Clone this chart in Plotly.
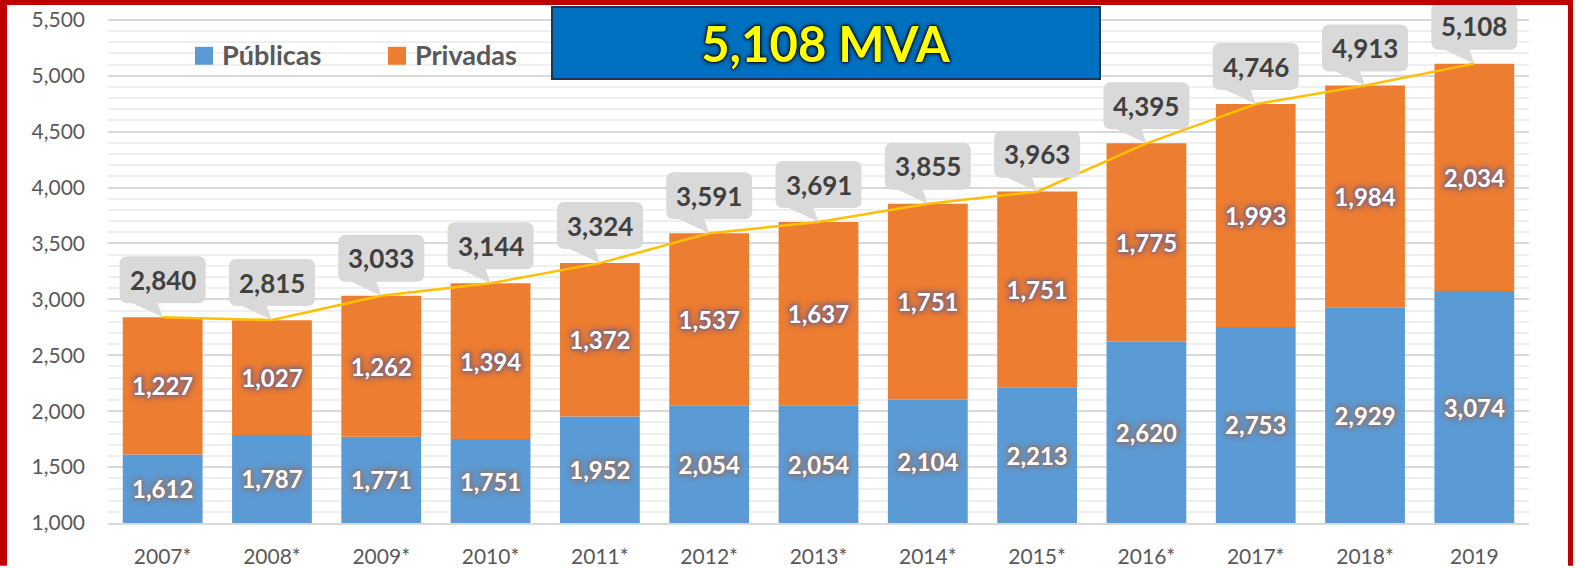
import plotly.graph_objects as go

years = ["2007*", "2008*", "2009*", "2010*", "2011*", "2012*", "2013*",
         "2014*", "2015*", "2016*", "2017*", "2018*", "2019"]
publicas = [1612, 1787, 1771, 1751, 1952, 2054, 2054, 2104, 2213, 2620, 2753, 2929, 3074]
privadas = [1227, 1027, 1262, 1394, 1372, 1537, 1637, 1751, 1751, 1775, 1993, 1984, 2034]
totales = [2840, 2815, 3033, 3144, 3324, 3591, 3691, 3855, 3963, 4395, 4746, 4913, 5108]
y_major = [1000, 1500, 2000, 2500, 3000, 3500, 4000, 4500, 5000, 5500]
title_text = "5,108 MVA"
series_names = ["Públicas", "Privadas"]

W, H = 1575, 568
ML, MR, MT, MB = 108, 46, 0, 43
PW, PH = W - ML - MR, H - MT - MB
Y0, Y1 = 1000, 5677

def px_x(px):
    return (px - ML) / PW

def px_y(py):
    return (H - MB - py) / PH

BLUE = "#5B9BD5"
ORANGE = "#ED7D31"
xs = list(range(len(years)))
FONT = "Lato"

def glow(c):
    return f"0 0 2px {c}, 0 0 3px {c}, 0 0 4px {c}, 0 0 6px {c}, 0 0 8px {c}"

fig = go.Figure()
fig.add_trace(go.Bar(
    x=xs, y=[p - Y0 for p in publicas], base=[Y0] * len(publicas),
    marker=dict(color=BLUE, line=dict(width=0)), width=0.73,
    text=[f"{v:,}" for v in publicas], textposition="inside",
    insidetextanchor="middle", textangle=0, constraintext="none",
    insidetextfont=dict(family=FONT, size=24, color="white", weight="bold",
                        shadow=glow("#8a7878")),
    name=series_names[0], showlegend=False, hoverinfo="skip"))
fig.add_trace(go.Bar(
    x=xs, y=privadas, base=publicas,
    marker=dict(color=ORANGE, line=dict(width=0)), width=0.73,
    text=[f"{v:,}" for v in privadas], textposition="inside",
    insidetextanchor="middle", textangle=0, constraintext="none",
    insidetextfont=dict(family=FONT, size=24, color="white", weight="bold",
                        shadow=glow("#84667a")),
    name=series_names[1], showlegend=False, hoverinfo="skip"))
fig.add_trace(go.Scatter(
    x=xs, y=totales, mode="lines", line=dict(color="#FFC000", width=2.5),
    showlegend=False, hoverinfo="skip"))

shapes = []
annotations = []
L, R, B, T, r = -43, 43, 14, 61, 8
path = (f"M {L+r},{B} L -30,{B} L 0,0 L -5,{B} L {R-r},{B} Q {R},{B} {R},{B+r} "
        f"L {R},{T-r} Q {R},{T} {R-r},{T} L {L+r},{T} Q {L},{T} {L},{T-r} "
        f"L {L},{B+r} Q {L},{B} {L+r},{B} Z")
for i, t in zip(xs, totales):
    shapes.append(dict(type="path", xref="x", yref="y", xsizemode="pixel",
                       ysizemode="pixel", xanchor=i, yanchor=t, path=path,
                       fillcolor="#D9D9D9", line=dict(width=0), layer="above"))
    annotations.append(dict(x=i, y=t, xref="x", yref="y", text=f"{t:,}",
                            showarrow=False, yshift=(B + T) / 2,
                            font=dict(family=FONT, size=26, color="#404040", weight="bold")))

# title box
annotations.append(dict(xref="paper", yref="paper", x=px_x(826), y=px_y(43),
                        xanchor="center", yanchor="middle", text=title_text,
                        showarrow=False, width=546, height=70, bgcolor="#0070C0",
                        bordercolor="#1F3550", borderwidth=2, borderpad=0,
                        font=dict(family=FONT, size=49, color="#FFFF00", weight="bold",
                                  shadow="0 0 2px #000, 0 0 3px #000, 0 0 5px #000")))

# manual legend
for sx, col, name, tx in [(195, BLUE, series_names[0], 220), (388, ORANGE, series_names[1], 413)]:
    shapes.append(dict(type="rect", xref="paper", yref="paper",
                       x0=px_x(sx), x1=px_x(sx + 18), y0=px_y(65), y1=px_y(47),
                       fillcolor=col, line=dict(width=0)))
    annotations.append(dict(xref="paper", yref="paper", x=px_x(tx), y=px_y(55),
                            xanchor="left", yanchor="middle", text=name, showarrow=False,
                            font=dict(family=FONT, size=27, color="#595959", weight="bold")))

# red frame
red = "#C00000"
shapes += [
    dict(type="rect", xref="paper", yref="paper", x0=px_x(0), x1=px_x(7),
         y0=px_y(H), y1=px_y(0), fillcolor=red, line=dict(width=0)),
    dict(type="rect", xref="paper", yref="paper", x0=px_x(0), x1=px_x(1573),
         y0=px_y(5), y1=px_y(0), fillcolor=red, line=dict(width=0)),
    dict(type="rect", xref="paper", yref="paper", x0=px_x(1568), x1=px_x(1573),
         y0=px_y(H), y1=px_y(0), fillcolor=red, line=dict(width=0)),
]

minor_vals = [v for v in range(1100, 5500, 100) if v % 500 != 0]

fig.update_layout(
    width=W, height=H, margin=dict(l=ML, r=MR, t=MT, b=MB),
    paper_bgcolor="white", plot_bgcolor="white", barmode="overlay",
    showlegend=False, shapes=shapes, annotations=annotations,
    xaxis=dict(range=[-0.5, len(years) - 0.5], tickvals=xs, ticktext=years,
               showgrid=False, zeroline=False, showline=True, linecolor="#D9D9D9",
               linewidth=2, ticks="", ticklabelstandoff=14,
               tickfont=dict(family=FONT, size=21, color="#595959")),
    yaxis=dict(range=[Y0, Y1], tickvals=y_major, ticktext=[f"{v:,}" for v in y_major],
               showgrid=True, gridcolor="#D9D9D9", gridwidth=1.5, zeroline=False,
               ticks="", ticklabelstandoff=22,
               tickfont=dict(family=FONT, size=21, color="#595959"),
               minor=dict(tickvals=minor_vals, showgrid=True, gridcolor="#EFEFEF",
                          gridwidth=1.5, ticks="")),
)

fig.write_html("out.html", config={"displayModeBar": False},
               post_script="document.body.style.margin='0';document.body.style.overflow='hidden';")
